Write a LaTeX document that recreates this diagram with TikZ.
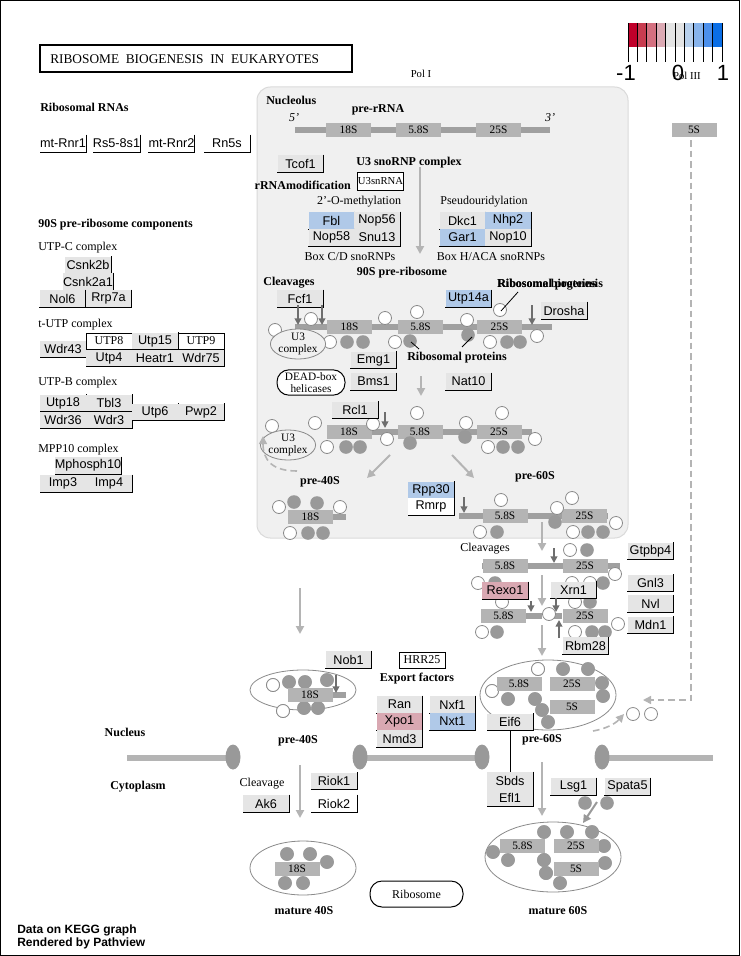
\documentclass[tikz,border=0pt]{standalone}
\usepackage{fontspec}
\setmainfont{Liberation Serif}
\newfontfamily\gf{Liberation Sans}
\usetikzlibrary{arrows.meta,shapes.geometric}

\definecolor{genegray}{HTML}{E5E5E5}
\definecolor{geneblue}{HTML}{B0C9E8}
\definecolor{genepink}{HTML}{D9A8B2}
\definecolor{rnagray}{HTML}{B4B4B4}
\definecolor{strandgray}{HTML}{A0A0A0}
\definecolor{protgray}{HTML}{999999}
\definecolor{nucbg}{HTML}{F0F0F0}
\definecolor{nucedge}{HTML}{DADADA}
\definecolor{flowgray}{HTML}{B4B4B4}
\definecolor{cutgray}{HTML}{6E6E6E}
\definecolor{ringgray}{HTML}{8A8A8A}
\definecolor{lg0}{HTML}{C0002A}
\definecolor{lg1}{HTML}{C83C50}
\definecolor{lg2}{HTML}{D47080}
\definecolor{lg3}{HTML}{DCAAB4}
\definecolor{lg4}{HTML}{E4E4E4}
\definecolor{lg5}{HTML}{E4E4E4}
\definecolor{lg6}{HTML}{B8D0EC}
\definecolor{lg7}{HTML}{88B4EC}
\definecolor{lg8}{HTML}{4C90EC}
\definecolor{lg9}{HTML}{0A6EE6}

\tikzset{
  genebox/.style={rectangle, inner sep=0pt, minimum width=34.5pt, minimum height=12.75pt,
    font=\gf\fontsize{9.5}{10}\selectfont},
  genedge/.style={draw=black, line width=0.75pt},
  plainbox/.style={rectangle, draw=black, line width=0.75pt, fill=white, inner sep=0pt,
    minimum width=34.5pt, minimum height=12pt, font=\fontsize{9}{10}\selectfont},
  rnabox/.style={rectangle, fill=rnagray, inner sep=0pt, minimum width=33.75pt,
    minimum height=10.5pt, font=\fontsize{8.5}{9}\selectfont},
  strand/.style={draw=strandgray, line width=4pt},
  membrane/.style={draw=flowgray, line width=4.5pt},
  lab/.style={font=\fontsize{9}{10}\selectfont, inner sep=0pt},
  blab/.style={font=\bfseries\fontsize{9}{10}\selectfont, inner sep=0pt},
  flowarrow/.style={draw=flowgray, line width=1.5pt, -{Triangle[length=6pt,width=6pt]}},
  dashflow/.style={draw=flowgray, line width=1.2pt, dashed, dash pattern=on 5pt off 3pt,
    -{Triangle[length=6pt,width=6pt]}},
  cutarrow/.style={draw=cutgray, line width=1.5pt, -{Triangle[length=5pt,width=5pt]}},
  pointer/.style={draw=black, line width=0.6pt},
  wcirc/.style={draw=ringgray, fill=white, line width=0.6pt},
  gcirc/.style={fill=protgray},
  ring/.style={draw=ringgray, line width=0.6pt},
  pore/.style={fill=protgray},
}

% gene product box: fill, label, and the black right/bottom edges
\newcommand\gene[5][]{%
  \node[genebox,fill=#4,#1] (#2) at (#3) {#5};
  \draw[genedge] (#2.north east) -- (#2.south east) -- (#2.south west);}
\newcommand\rna[3]{\node[rnabox] (#1) at (#2) {#3};}

\begin{document}
\begin{tikzpicture}[x=0.75pt,y=-0.75pt]
\useasboundingbox (0,0) rectangle (740,956);
\fill[white] (0,0) rectangle (740,956);
\draw[line width=0.75pt] (0.5,0.5) rectangle (739.5,955.5);

% ---------- title and legend ----------
\draw[line width=1.5pt] (40,45) rectangle (352,72);
\node[lab, anchor=west, font=\fontsize{10}{11}\selectfont] (title) at (50,59)
  {RIBOSOME\ \ BIOGENESIS\ \ IN\ \ EUKARYOTES};

\foreach \i in {0,...,9}
  \fill[lg\i] ({628+9.4*\i},23) rectangle ({628+9.4*(\i+1)},47);
\foreach \i in {0,...,10}
  \draw[line width=0.75pt] ({628+9.4*\i},23) -- ({628+9.4*\i},62);
\node[font=\gf\fontsize{16.5}{18}\selectfont, inner sep=0pt] (lgmin) at (626,73) {-1};
\node[font=\gf\fontsize{16.5}{18}\selectfont, inner sep=0pt] (lgmid) at (678,73) {0};
\node[font=\gf\fontsize{16.5}{18}\selectfont, inner sep=0pt] (lgmax) at (723,73) {1};
\node[lab, font=\fontsize{8}{9}\selectfont] (pol3) at (687,76) {Pol III};
\node[lab, font=\fontsize{8}{9}\selectfont] (pol1) at (421,74) {Pol I};
\rna{fiveS}{694,130}{5S}

% ---------- left column: ribosomal RNAs and 90S components ----------
\node[blab, anchor=west] (rrnas) at (40,107) {Ribosomal RNAs};
\gene{mtRnr1}{63,143.5}{white}{mt-Rnr1}
\gene{Rs58s1}{116.5,143.5}{white}{Rs5-8s1}
\gene{mtRnr2}{171.5,143.5}{white}{mt-Rnr2}
\gene{Rn5s}{227,143.5}{white}{Rn5s}

\node[blab, anchor=west] (comp90) at (38,225) {90S pre-ribosome components};
\node[lab, anchor=west] (utpc) at (38,248) {UTP-C complex};
\gene{Csnk2b}{88,265}{genegray}{Csnk2b}
\gene{Csnk2a1}{88,281.5}{genegray}{Csnk2a1}
\gene{Nol6}{62.5,298.5}{genegray}{Nol6}
\gene{Rrp7a}{108.5,298.5}{genegray}{Rrp7a}

\node[lab, anchor=west] (tutp) at (38,325) {t-UTP complex};
\gene{Wdr43}{63,349}{genegray}{Wdr43}
\node[plainbox] (UTP8) at (109,341) {UTP8};
\gene{Utp4}{109,358}{genegray}{Utp4}
\gene{Utp15}{155,341}{genegray}{Utp15}
\gene{Heatr1}{155,358}{genegray}{Heatr1}
\node[plainbox] (UTP9) at (201,341) {UTP9};
\gene{Wdr75}{201,358}{genegray}{Wdr75}

\node[lab, anchor=west] (utpb) at (38,383) {UTP-B complex};
\gene{Utp18}{63,403}{genegray}{Utp18}
\gene{Wdr36}{63,420}{genegray}{Wdr36}
\gene{Tbl3}{109,403}{genegray}{Tbl3}
\gene{Wdr3}{109,420}{genegray}{Wdr3}
\gene{Utp6}{155,412}{genegray}{Utp6}
\gene{Pwp2}{201,412}{genegray}{Pwp2}

\node[lab, anchor=west] (mpp10) at (38,450) {MPP10 complex};
\gene{Mphosph10}{88,465.5}{genegray}{Mphosph10}
\gene{Imp3}{63,483.5}{genegray}{Imp3}
\gene{Imp4}{109,483.5}{genegray}{Imp4}

% ---------- nucleolus ----------
\draw[fill=nucbg, draw=nucedge, line width=0.75pt, rounded corners=10pt] (257,87) rectangle (628,538);
\node[blab, anchor=west] (nucleolus) at (266,100) {Nucleolus};
\node[blab] (prerrna) at (378,110) {pre-rRNA};
\node[lab, font=\itshape\fontsize{9}{10}\selectfont] (five) at (294,118) {5'};
\node[lab, font=\itshape\fontsize{9}{10}\selectfont] (three) at (550,118) {3'};

% strands
\draw[strand] (295,130) -- (550,130);
\draw[strand] (295,327) -- (552,327);
\draw[strand] (327,432) -- (532,432);
\draw[strand] (333,517) -- (346,517);
\draw[strand] (459,516) -- (608,516);
\draw[strand] (482,566) -- (620,566);
\draw[strand] (525,616) -- (542,616);
\draw[strand] (552,616) -- (562,616);
\draw[strand] (333,695) -- (346,695);

% rRNA segments
\rna{pr18}{348.5,130}{18S}
\rna{pr58}{418.5,130}{5.8S}
\rna{pr25}{498.5,130}{25S}
\rna{n18}{349.5,326.5}{18S}
\rna{n58}{420.5,326.5}{5.8S}
\rna{n25}{499.5,326.5}{25S}
\rna{m18}{349,432}{18S}
\rna{m58}{420,432}{5.8S}
\rna{m25}{499,432}{25S}
\rna{s18}{310.5,516.5}{18S}
\rna{l58}{505,516}{5.8S}
\rna{l25}{584.5,516}{25S}
\rna{c58a}{505,566}{5.8S}
\rna{c25a}{585,566}{25S}
\rna{c58b}{503.5,616}{5.8S}
\rna{c25b}{585,616}{25S}
\rna{e18}{310,695}{18S}
\rna{e58}{519,683.5}{5.8S}
\rna{e25}{572,683.5}{25S}
\rna{e5}{572,707}{5S}
\rna{f18}{297,869}{18S}
\rna{f58}{522.5,846}{5.8S}
\rna{f25}{576,846}{25S}
\rna{f5}{576,869}{5S}

% white circles: biogenesis factors
\foreach \x/\y in {275/330, 311/319, 330/342, 385/318, 395/342, 417/312, 467/320, 500/310, 490/342, 537/336,
  272/426, 315/423, 373/424, 327/447, 387/439, 417/413, 466/423, 502/413, 488/447, 535/439,
  279/507, 340/507, 290/533,
  501/500, 572/498, 557/508, 616/523, 480/532, 573/532,
  570/550, 615/574, 478/583, 572/583, 590/583,
  502/602, 575/602, 549/614, 482/632, 575/632, 618/624,
  273/685, 283/711, 492/691, 538/669, 633/714, 651/714}
  \draw[wcirc] (\x,\y) circle[radius=6.5];

% grey circles: ribosomal proteins
\foreach \x/\y in {347/342, 363/342, 410/341, 468/335, 507/342, 520/342,
  346/447, 360/447, 410/443, 465/437, 503/447, 518/447,
  294/502, 317/503, 308/533, 323/533,
  497/532, 555/522, 588/532, 603/532,
  587/550, 495/583, 603/583, 590/602, 497/632, 592/632, 605/632,
  289/682, 305/682, 327/680, 304/708, 318/708,
  563/669, 588/669, 602/683, 603/696, 508/699, 535/699, 542/710, 548/722,
  585/803, 607/803,
  287/854, 310/854, 327/862, 285/883, 303/883,
  544/832, 567/832, 592/832, 493/852, 508/860, 544/860, 546/873, 560/883, 604/846, 605/863}
  \fill[gcirc] (\x,\y) circle[radius=6.8];

% U3 snoRNP and modification
\gene{Tcof1}{300.5,163.5}{genegray}{Tcof1}
\node[blab] (u3snorna) at (409,163) {U3 snoRNP complex};
\node[plainbox, minimum height=13.5pt, font=\fontsize{8}{9}\selectfont] (U3snRNA) at (380.5,181) {U3snRNA};
\node[blab, anchor=east] (rrnamod) at (351,185) {rRNAmodification};
\node[lab] (methyl) at (359,202) {2'-O-methylation};
\node[lab] (pseudo) at (484,202) {Pseudouridylation};
\gene{Fbl}{331.5,220.5}{geneblue}{Fbl}
\gene{Nop56}{377,220.5}{genegray}{Nop56}
\gene{Nop58}{331.5,237.5}{genegray}{Nop58}
\gene{Snu13}{377,237.5}{genegray}{Snu13}
\gene{Dkc1}{462.5,220.5}{genegray}{Dkc1}
\gene{Nhp2}{508,220.5}{geneblue}{Nhp2}
\gene{Gar1}{462.5,237.5}{geneblue}{Gar1}
\gene{Nop10}{508,237.5}{genegray}{Nop10}
\node[lab] (boxcd) at (350,257) {Box C/D snoRNPs};
\node[lab] (boxhaca) at (491,257) {Box H/ACA snoRNPs};
\node[blab] (pre90) at (402,273) {90S pre-ribosome};
\node[blab] (cleav1) at (289,283) {Cleavages};
\node[blab, anchor=west] (biogen) at (497,285) {Ribosome biogenesis};
\node[blab, anchor=west] (biogenb) at (497,285) {Ribosomal proteins};

% 90S processing factors
\gene{Fcf1}{300,298.5}{genegray}{Fcf1}
\gene{Utp14a}{468.5,298.5}{geneblue}{Utp14a}
\gene{Drosha}{564,310.5}{genegray}{Drosha}
\node[ellipse, draw=ringgray, line width=0.6pt, fill=nucbg, minimum width=33pt, minimum height=22.5pt,
  inner sep=0pt, align=center, font=\fontsize{8.5}{8.5}\selectfont] (u3a) at (298,344) {U3\\complex};
\node[blab] (ribprot) at (457,358) {Ribosomal proteins};
\gene{Emg1}{373.5,360}{genegray}{Emg1}
\gene{Bms1}{373.5,381.5}{genegray}{Bms1}
\gene{Nat10}{468.5,381.5}{genegray}{Nat10}
\node[draw=black, line width=0.75pt, fill=white, rounded corners=9pt, minimum width=51pt, minimum height=19pt,
  inner sep=0pt, align=center, font=\fontsize{8.5}{8.5}\selectfont] (deadbox) at (311,382.5) {DEAD-box\\helicases};

% pointer lines
\coordinate (rp1a) at (411,342); \coordinate (rp1b) at (419,349);
\coordinate (rp2a) at (462,347); \coordinate (rp2b) at (472,337);
\coordinate (bg1a) at (501,311); \coordinate (bg1b) at (518,292);
\draw[pointer] (rp1a) -- (rp1b);
\draw[pointer] (rp2a) -- (rp2b);
\draw[pointer] (bg1a) -- (bg1b);

% second 90S stage
\gene{Rcl1}{355,410}{genegray}{Rcl1}
\node[ellipse, draw=ringgray, line width=0.6pt, fill=nucbg, minimum width=31.5pt, minimum height=22.5pt,
  inner sep=0pt, align=center, font=\fontsize{8.5}{8.5}\selectfont] (u3b) at (288,445) {U3\\complex};
\node[blab] (pre40a) at (320,482) {pre-40S};
\node[blab] (pre60a) at (535,477) {pre-60S};
\gene{Rpp30}{431,490}{geneblue}{Rpp30}
\gene{Rmrp}{431,506.5}{white}{Rmrp}

% ---------- nucleoplasm ----------
\node[lab] (cleav2) at (485,549) {Cleavages};
\gene{Rexo1}{505,590.5}{genepink}{Rexo1}
\gene{Xrn1}{573.5,590}{genegray}{Xrn1}
\gene{Gtpbp4}{650.5,551}{genegray}{Gtpbp4}
\gene{Gnl3}{650.5,583}{genegray}{Gnl3}
\gene{Nvl}{650.5,603.5}{genegray}{Nvl}
\gene{Mdn1}{650.5,625}{genegray}{Mdn1}
\gene{Rbm28}{585.5,645.5}{genegray}{Rbm28}

% pre-40S and pre-60S particles
\draw[ring] (303,690) ellipse[x radius=53, y radius=20];
\draw[ring] (548,695) ellipse[x radius=68, y radius=35];
\foreach \x/\y in {273/685, 283/711, 492/691, 538/669}
  \draw[wcirc] (\x,\y) circle[radius=6.5];
\foreach \x/\y in {289/682, 305/682, 327/680, 304/708, 318/708,
  563/669, 588/669, 602/683, 603/696, 508/699, 535/699, 542/710, 548/722}
  \fill[gcirc] (\x,\y) circle[radius=6.8];
\draw[strand] (333,695) -- (346,695);
\rna{e18b}{310,695}{18S}
\rna{e58b}{519,683.5}{5.8S}
\rna{e25b}{572,683.5}{25S}
\rna{e5b}{572,707}{5S}

\gene{Nob1}{348.5,659.5}{genegray}{Nob1}
\node[plainbox] (HRR25) at (422,660) {HRR25};
\node[blab] (export) at (417,679) {Export factors};
\gene{Ran}{399.5,704.5}{genegray}{Ran}
\gene{Xpo1}{399.5,721.5}{genepink}{Xpo1}
\gene{Nmd3}{399.5,738.5}{genegray}{Nmd3}
\gene{Nxf1}{452.5,704.5}{genegray}{Nxf1}
\gene{Nxt1}{452.5,721.5}{geneblue}{Nxt1}
\gene{Eif6}{510,722}{genegray}{Eif6}
\node[blab] (pre40b) at (298,741) {pre-40S};
\node[blab] (pre60b) at (542,740) {pre-60S};

% ---------- nuclear envelope ----------
\node[blab] (nucleus) at (125,732) {Nucleus};
\node[blab] (cyto) at (138,787) {Cytoplasm};
\draw[membrane] (127,758) -- (233,758);
\draw[membrane] (360,758) -- (482,758);
\draw[membrane] (602,758) -- (713,758);
\foreach \x in {233,360,482,602}
  \fill[pore] (\x,757) ellipse[x radius=7.5, y radius=12.5];

% ---------- cytoplasm ----------
\node[lab] (cleav3) at (262,784) {Cleavage};
\gene{Ak6}{266,803.5}{genegray}{Ak6}
\gene{Riok1}{334,781}{genegray}{Riok1}
\gene{Riok2}{334,803.5}{white}{Riok2}
\gene{Sbds}{510,780.5}{genegray}{Sbds}
\gene{Efl1}{510,797.5}{genegray}{Efl1}
\gene{Lsg1}{573.5,786.5}{genegray}{Lsg1}
\gene{Spata5}{627.5,786.5}{genegray}{Spata5}
\draw[pointer] (Eif6.south) -- (Sbds.north);

\draw[ring] (303,868) ellipse[x radius=53, y radius=27];
\draw[ring] (553,857) ellipse[x radius=68, y radius=35];
\foreach \x/\y in {287/854, 310/854, 327/862, 285/883, 303/883,
  544/832, 567/832, 592/832, 493/852, 508/860, 544/860, 546/873, 560/883, 604/846, 605/863}
  \fill[gcirc] (\x,\y) circle[radius=6.8];
\rna{f18b}{297,869}{18S}
\rna{f58b}{522.5,846}{5.8S}
\rna{f25b}{576,846}{25S}
\rna{f5b}{576,869}{5S}
\fill[gcirc] (544,860) circle[radius=6.8];
\fill[gcirc] (546,873) circle[radius=6.8];
\node[blab] (mat40) at (304,911) {mature 40S};
\node[blab] (mat60) at (558,911) {mature 60S};
\node[draw=black, line width=0.75pt, rounded corners=9pt, minimum width=69.75pt, minimum height=19.5pt,
  inner sep=0pt, font=\fontsize{9}{10}\selectfont] (ribosome) at (416.5,894) {Ribosome};

% ---------- flow arrows ----------
\coordinate (fa1) at (420,167); \coordinate (fb1) at (420,254);
\coordinate (fa2) at (421,376); \coordinate (fb2) at (421,396);
\coordinate (fa3) at (390,455); \coordinate (fb3) at (367,478);
\coordinate (fa4) at (452,455); \coordinate (fb4) at (474,478);
\coordinate (fa5) at (542,522); \coordinate (fb5) at (542,551);
\coordinate (fa6) at (542,575); \coordinate (fb6) at (542,606);
\coordinate (fa7) at (542,625); \coordinate (fb7) at (542,656);
\coordinate (fa8) at (300,588); \coordinate (fb8) at (300,634);
\coordinate (fa9) at (300,765); \coordinate (fb9) at (300,818);
\coordinate (fa10) at (542,762); \coordinate (fb10) at (542,816);
\draw[flowarrow] (fa1) -- (fb1);
\draw[flowarrow] (fa2) -- (fb2);
\draw[flowarrow] (fa3) -- (fb3);
\draw[flowarrow] (fa4) -- (fb4);
\draw[flowarrow] (fa5) -- (fb5);
\draw[flowarrow] (fa6) -- (fb6);
\draw[flowarrow] (fa7) -- (fb7);
\draw[flowarrow] (fa8) -- (fb8);
\draw[flowarrow] (fa9) -- (fb9);
\draw[flowarrow] (fa10) -- (fb10);
\coordinate (ua) at (297,471); \coordinate (ub) at (263,436);
\draw[dashflow] (ua) .. controls (272,471) and (263,460) .. (ub);
\coordinate (ra) at (691,140); \coordinate (rb) at (691,700); \coordinate (rc) at (643,700);
\draw[dashflow] (ra) -- (rb) -- (rc);
\coordinate (ea) at (593,731); \coordinate (eb) at (624,714);
\draw[dashflow] (ea) .. controls (605,729) and (615,724) .. (eb);
\coordinate (la) at (597,802); \coordinate (lb) at (583,823);
\draw[draw=protgray, line width=1.5pt, -{Triangle[length=6pt,width=6pt]}] (la) -- (lb);

% ---------- cleavage sites ----------
\foreach \x/\ya/\yb in {298/305/325, 322/305/325, 532/305/325, 385/412/428, 464/497/513,
  554/548/563, 531/601/612, 556/598/612, 559/638/620, 336/675/693}
  \draw[cutarrow] (\x,\ya) -- (\x,\yb);

% ---------- footer ----------
\node[anchor=west, inner sep=0pt, font=\gf\bfseries\fontsize{9}{10}\selectfont] (foot1) at (17,930) {Data on KEGG graph};
\node[anchor=west, inner sep=0pt, font=\gf\bfseries\fontsize{9}{10}\selectfont] (foot2) at (17,943) {Rendered by Pathview};
\end{tikzpicture}
\end{document}
